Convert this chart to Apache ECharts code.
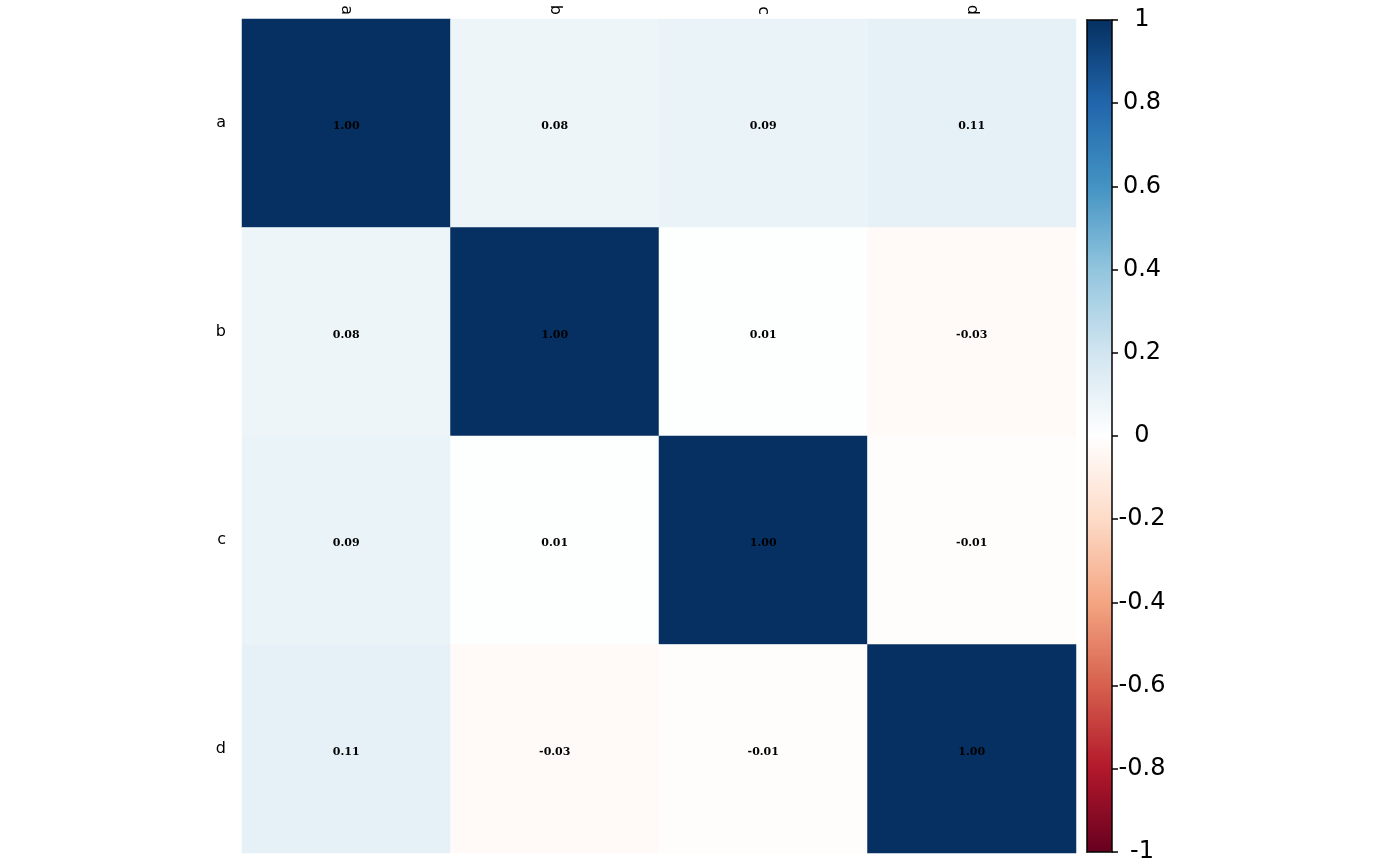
<!DOCTYPE html>
<html>
<head>
<meta charset="utf-8">
<script src="https://cdn.jsdelivr.net/npm/echarts@6/dist/echarts.min.js"></script>
<style>
  html, body { margin: 0; padding: 0; background: #fff; }
  #chart { width: 1400px; height: 866px; }
</style>
</head>
<body>
<div id="chart"></div>
<script>
// variable names
const vars = ['a', 'b', 'c', 'd'];
// correlation matrix rows
const rowA = [1.00, 0.08, 0.09, 0.11];
const rowB = [0.08, 1.00, 0.01, -0.03];
const rowC = [0.09, 0.01, 1.00, -0.01];
const rowD = [0.11, -0.03, -0.01, 1.00];
const corrRows = [rowA, rowB, rowC, rowD];
// colorbar ticks
const barMin = -1;
const barMax = 1;
const barStep = 0.2;
// RdBu palette (corrplot)
const palette = ['#67001F', '#B2182B', '#D6604D', '#F4A582', '#FDDBC7', '#FFFFFF',
                 '#D1E5F0', '#92C5DE', '#4393C3', '#2166AC', '#053061'];

const cells = [];
corrRows.forEach((row, i) => {
  row.forEach((v, j) => cells.push([j, i, v]));
});

const chart = echarts.init(document.getElementById('chart'));

// black frame line for the colorbar
const frame = { show: true, onZero: false, lineStyle: { color: '#000', width: 1.5 } };

chart.setOption({
  animation: false,
  grid: [
    { left: 242, top: 19, right: 324, bottom: 13 },
    { left: 1087, top: 20, width: 25, bottom: 14, show: false }
  ],
  xAxis: [
    {
      type: 'category',
      data: vars,
      position: 'top',
      gridIndex: 0,
      axisLine: { show: false },
      axisTick: { show: false },
      axisLabel: { rotate: 90, margin: 4, fontSize: 16, color: '#000', fontFamily: 'DejaVu Sans' }
    },
    {
      type: 'value', gridIndex: 1, position: 'top', z: 10, min: 0, max: 1,
      axisLine: frame, axisTick: { show: false }, axisLabel: { show: false }, splitLine: { show: false }
    },
    {
      type: 'value', gridIndex: 1, position: 'bottom', z: 10, min: 0, max: 1,
      axisLine: frame, axisTick: { show: false }, axisLabel: { show: false }, splitLine: { show: false }
    }
  ],
  yAxis: [
    {
      type: 'category',
      data: vars,
      inverse: true,
      gridIndex: 0,
      axisLine: { show: false },
      axisTick: { show: false },
      axisLabel: { margin: 16, fontSize: 16, color: '#000', fontFamily: 'DejaVu Sans', padding: [3, 0, 0, 0] }
    },
    {
      type: 'value',
      gridIndex: 1,
      position: 'right',
      z: 10,
      min: barMin,
      max: barMax,
      interval: barStep,
      axisLine: frame,
      axisTick: { show: true, length: 6, lineStyle: { color: '#000', width: 1.5 } },
      splitLine: { show: false },
      axisLabel: {
        margin: 30,
        align: 'center',
        fontSize: 24,
        color: '#000',
        fontFamily: 'DejaVu Sans',
        padding: [3, 0, 0, 0],
        formatter: v => String(Math.round(v * 10) / 10)
      }
    },
    {
      type: 'value',
      gridIndex: 1,
      position: 'left',
      z: 10,
      min: barMin,
      max: barMax,
      axisLine: frame,
      axisTick: { show: false },
      axisLabel: { show: false },
      splitLine: { show: false }
    }
  ],
  visualMap: {
    type: 'continuous',
    min: barMin,
    max: barMax,
    seriesIndex: 0,
    calculable: false,
    orient: 'vertical',
    left: 1087,
    top: 20,
    itemWidth: 25,
    itemHeight: 832,
    padding: 0,
    text: null,
    inRange: { color: palette }
  },
  series: [
    {
      type: 'heatmap',
      xAxisIndex: 0,
      yAxisIndex: 0,
      data: cells,
      label: {
        show: true,
        color: '#000',
        fontSize: 11,
        fontWeight: 'bold',
        fontFamily: 'DejaVu Serif',
        offset: [0, 3],
        formatter: p => p.value[2].toFixed(2)
      },
      emphasis: { disabled: true }
    }
  ]
});
</script>
</body>
</html>
